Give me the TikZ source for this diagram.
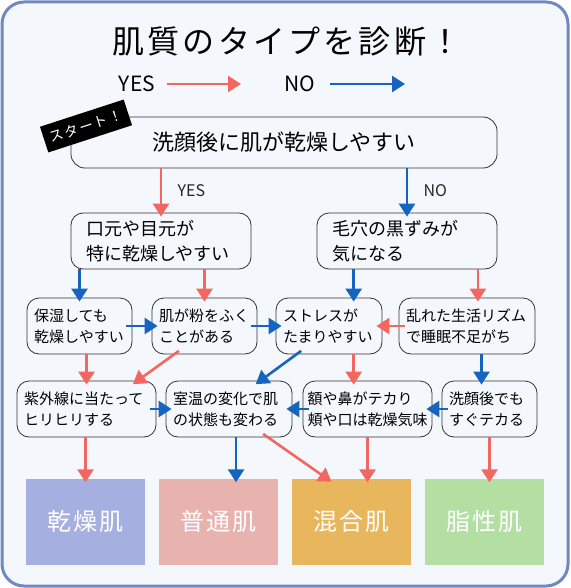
\documentclass[tikz,border=0pt]{standalone}
\usepackage{fontspec}
\setmainfont{Noto Sans CJK JP}
\newfontfamily\hwfont[LetterSpace=10]{Noto Sans CJK JP}
\usetikzlibrary{arrows.meta}
\definecolor{framecol}{HTML}{7088C4}
\definecolor{bgcol}{HTML}{F4F7FB}
\definecolor{yescol}{HTML}{F2675F}
\definecolor{nocol}{HTML}{1565C0}
\definecolor{boxcol}{HTML}{333333}
\definecolor{drycol}{HTML}{A6B0E0}
\definecolor{normcol}{HTML}{E8B2AF}
\definecolor{mixcol}{HTML}{E8B65C}
\definecolor{oilcol}{HTML}{B3E0A2}
\tikzset{
  qbox/.style={draw=boxcol,line width=0.8pt,rounded corners=12pt,align=left,inner xsep=7pt,minimum height=56pt,font=\fontsize{15}{21}\selectfont},
  qboxbig/.style={qbox,inner xsep=15pt,font=\fontsize{18}{25}\selectfont},
  res/.style={minimum width=119pt,minimum height=86pt,text=white,font=\hwfont\fontsize{24}{28}\selectfont},
  yesline/.style={draw=yescol,line width=2.6pt,-{Triangle[length=13pt,width=16pt]}},
  noline/.style={draw=nocol,line width=2.6pt,-{Triangle[length=13pt,width=16pt]}},
  down/.style={shorten >=-4pt},
  across/.style={shorten <=-6pt,shorten >=-6pt},
  lbl/.style={text=black!85,font=\fontsize{16}{18}\selectfont},
}
\begin{document}
\begin{tikzpicture}[x=1pt,y=-1pt]
\useasboundingbox (0,0) rectangle (570,588);
\draw[draw=framecol,line width=3pt,fill=bgcol,rounded corners=22pt] (2,2) rectangle (568,586);
\pgfmathsetmacro{\kya}{241}
\pgfmathsetmacro{\kyb}{326}
\pgfmathsetmacro{\kyc}{409}
\pgfmathsetmacro{\kyd}{521.5}
\node[font=\hwfont\fontsize{32}{36}\selectfont] (title) at (287,42) {肌質のタイプを診断！};
\node[font=\fontsize{21}{24}\selectfont] (yes) at (137,84) {YES};
\node[font=\fontsize{21}{24}\selectfont] (no) at (300,84) {NO};
\coordinate (yesa) at (167,84);
\coordinate (yesb) at (241,84);
\coordinate (noa) at (330,84);
\coordinate (nob) at (405,84);
\draw[yesline] (yesa) -- (yesb);
\draw[noline] (noa) -- (nob);
\node[draw=boxcol,line width=0.8pt,rounded corners=14pt,minimum width=426pt,minimum height=51pt,font=\fontsize{22}{26}\selectfont] (start) at (284,142.5) {洗顔後に肌が乾燥しやすい};
\node[fill=black,text=white,rotate=18,minimum width=88pt,minimum height=27pt,font=\hwfont\fontsize{14}{16}\selectfont] (tag) at (86,126) {スタート！};
\node[qboxbig,text width=150pt] (A) at (161,\kya) {口元や目元が\\特に乾燥しやすい};
\node[qboxbig,text width=150pt] (B) at (407,\kya) {毛穴の黒ずみが\\気になる};
\node[qbox,text width=91pt] (C) at (79.5,\kyb) {保湿しても\\乾燥しやすい};
\node[qbox,text width=91pt] (D) at (204.5,\kyb) {肌が粉をふく\\ことがある};
\node[qbox,text width=92pt] (E) at (329,\kyb) {ストレスが\\たまりやすい};
\node[qbox,text width=122pt] (F) at (467,\kyb) {乱れた生活リズム\\で睡眠不足がち};
\node[qbox,text width=125pt] (G) at (86.5,\kyc) {紫外線に当たって\\ヒリヒリする};
\node[qbox,text width=112pt] (H) at (229,\kyc) {室温の変化で肌\\の状態も変わる};
\node[qbox,inner xsep=4.5pt,text width=120pt] (I) at (367.5,\kyc) {額や鼻がテカり\\頬や口は乾燥気味};
\node[qbox,text width=81pt] (J) at (489.5,\kyc) {洗顔後でも\\すぐテカる};
\node[res,fill=drycol] (K) at (85.5,\kyd) {乾燥肌};
\node[res,fill=normcol] (L) at (218.5,\kyd) {普通肌};
\node[res,fill=mixcol] (M) at (351.5,\kyd) {混合肌};
\node[res,fill=oilcol] (N) at (484.5,\kyd) {脂性肌};
\draw[yesline,down] (A.north |- start.south) -- (A.north) node[midway,right=12pt,lbl]{YES};
\draw[noline,down] (B.north |- start.south) -- (B.north) node[midway,right=12pt,lbl]{NO};
\draw[noline,down] (C.north |- A.south) -- (C.north);
\draw[yesline,down] (D.north |- A.south) -- (D.north);
\draw[noline,down] (E.49 |- B.south) -- (E.49);
\draw[yesline,down] (F.69 |- B.south) -- (F.69);
\draw[noline,across] (C.east) -- (D.west);
\draw[noline,across] (D.east) -- (E.west);
\draw[yesline,across] (F.west) -- (E.east);
\draw[yesline,down] (G.north |- C.south) -- (G.north);
\draw[yesline,across] (D.-137) -- (G.29);
\draw[noline,across] (E.-139) -- (H.42);
\draw[yesline,down] (E.-49) -- (E.-49 |- I.north);
\draw[noline,down] (F.-63) -- (F.-63 |- J.north);
\draw[noline,across] (G.east) -- (H.west);
\draw[noline,across] (J.west) -- (I.east);
\draw[noline,across] (I.west) -- (H.east);
\draw[yesline,down] (K.north |- G.south) -- (K.north);
\draw[noline,down] (H.-76) -- (H.-76 |- L.north);
\draw[yesline,across] (H.-36) -- (M.120);
\draw[yesline,down] (I.south) -- (I.south |- M.north);
\draw[yesline,down] (J.south) -- (J.south |- N.north);
\end{tikzpicture}
\end{document}
